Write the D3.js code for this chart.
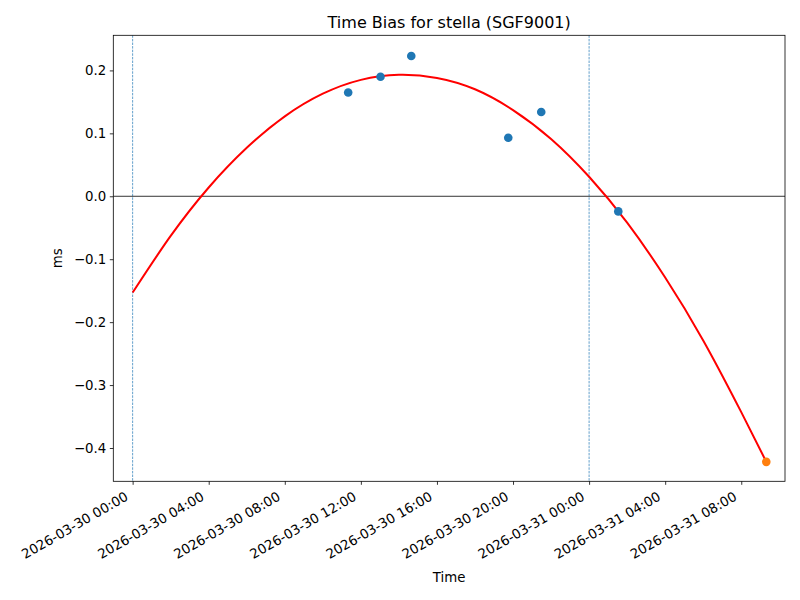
<!DOCTYPE html>
<html>
<head>
<meta charset="utf-8">
<script src="https://cdn.jsdelivr.net/npm/d3@7"></script>
<style>
  html, body { margin: 0; padding: 0; background: #fff; }
  text { font-family: "DejaVu Sans", sans-serif; fill: #000; }
</style>
</head>
<body>
<svg id="chart" width="800" height="600"></svg>
<script>
// ---- data ----
const titleText = "Time Bias for stella (SGF9001)";
const xLabelText = "Time";
const yLabelText = "ms";

const obsTimes = ["2026-03-30T11:20", "2026-03-30T13:02", "2026-03-30T14:39",
                  "2026-03-30T19:45", "2026-03-30T21:29", "2026-03-31T01:32"];
const obsBias = [0.165, 0.190, 0.223, 0.093, 0.134, -0.024];

const predTimes = ["2026-03-31T09:19"];
const predBias = [-0.422];

const fitTimes = ["2026-03-30T00:00", "2026-03-30T02:00", "2026-03-30T04:00", "2026-03-30T06:00",
                  "2026-03-30T08:00", "2026-03-30T10:00", "2026-03-30T12:00", "2026-03-30T14:00",
                  "2026-03-30T16:00", "2026-03-30T18:00", "2026-03-30T20:00", "2026-03-30T22:00",
                  "2026-03-31T00:00", "2026-03-31T02:00", "2026-03-31T04:00", "2026-03-31T06:00",
                  "2026-03-31T08:00", "2026-03-31T09:19"];
const fitBias = [-0.153, -0.063, 0.014, 0.077, 0.127, 0.163, 0.185, 0.193,
                 0.188, 0.170, 0.137, 0.091, 0.031, -0.042, -0.129, -0.229,
                 -0.343, -0.422];

const dayBoundaries = ["2026-03-30T00:00", "2026-03-31T00:00"];

const xTicks = ["2026-03-30T00:00", "2026-03-30T04:00", "2026-03-30T08:00", "2026-03-30T12:00",
                "2026-03-30T16:00", "2026-03-30T20:00", "2026-03-31T00:00", "2026-03-31T04:00",
                "2026-03-31T08:00"];
const yTicks = [0.2, 0.1, 0.0, -0.1, -0.2, -0.3, -0.4];

const xDomain = ["2026-03-29T22:59", "2026-03-31T10:18"];
const yDomain = [-0.4529, 0.2558];

// ---- layout ----
const W = 800, H = 600;
const margin = { left: 113.3, top: 35.3, right: 15, bottom: 118.7 };
const x0 = margin.left, x1 = W - margin.right, y0 = margin.top, y1 = H - margin.bottom;

const parse = d3.utcParse("%Y-%m-%dT%H:%M");
const fmtX = d3.utcFormat("%Y-%m-%d %H:%M");
const fmtY = d3.format(".1f");

const x = d3.scaleUtc().domain(xDomain.map(parse)).range([x0, x1]);
const y = d3.scaleLinear().domain(yDomain).range([y1, y0]);

const svg = d3.select("#chart");
svg.append("rect").attr("width", W).attr("height", H).attr("fill", "#fff");

const clipId = "plotclip";
svg.append("clipPath").attr("id", clipId)
  .append("rect").attr("x", x0).attr("y", y0).attr("width", x1 - x0).attr("height", y1 - y0);

const plot = svg.append("g").attr("clip-path", `url(#${clipId})`);

// day boundary lines
plot.selectAll("line.day").data(dayBoundaries).enter().append("line")
  .attr("class", "day")
  .attr("x1", d => x(parse(d))).attr("x2", d => x(parse(d)))
  .attr("y1", y0).attr("y2", y1)
  .attr("stroke", "#1f77b4").attr("stroke-width", 0.7)
  .attr("stroke-dasharray", "2.5,1.1");

// zero line
plot.append("line")
  .attr("x1", x0).attr("x2", x1)
  .attr("y1", y(0)).attr("y2", y(0))
  .attr("stroke", "#000").attr("stroke-width", 0.8);

// fit curve
const fitData = fitTimes.map((t, i) => ({ t: parse(t), v: fitBias[i] }));
plot.append("path")
  .datum(fitData)
  .attr("fill", "none")
  .attr("stroke", "#ff0000")
  .attr("stroke-width", 2)
  .attr("d", d3.line().x(d => x(d.t)).y(d => y(d.v)).curve(d3.curveNatural));

// observed points
const obsData = obsTimes.map((t, i) => ({ t: parse(t), v: obsBias[i] }));
plot.selectAll("circle.obs").data(obsData).enter().append("circle")
  .attr("class", "obs")
  .attr("cx", d => x(d.t)).attr("cy", d => y(d.v)).attr("r", 4.3)
  .attr("fill", "#1f77b4");

// predicted point
const predData = predTimes.map((t, i) => ({ t: parse(t), v: predBias[i] }));
plot.selectAll("circle.pred").data(predData).enter().append("circle")
  .attr("class", "pred")
  .attr("cx", d => x(d.t)).attr("cy", d => y(d.v)).attr("r", 4.3)
  .attr("fill", "#ff7f0e");

// frame
svg.append("rect")
  .attr("x", x0).attr("y", y0).attr("width", x1 - x0).attr("height", y1 - y0)
  .attr("fill", "none").attr("stroke", "#000").attr("stroke-width", 0.8);

// x axis
const xAxis = d3.axisBottom(x)
  .tickValues(xTicks.map(parse))
  .tickSize(3.5)
  .tickFormat(fmtX);
const gx = svg.append("g").attr("transform", `translate(0,${y1})`).call(xAxis);
gx.select(".domain").remove();
gx.selectAll(".tick line").attr("stroke", "#000").attr("stroke-width", 0.8);
gx.selectAll(".tick text")
  .attr("font-size", 13.33)
  .attr("font-family", "DejaVu Sans")
  .attr("text-anchor", "end")
  .attr("y", 0).attr("dy", 0)
  .attr("transform", "translate(-4,18) rotate(-30)");

// y axis
const yAxis = d3.axisLeft(y)
  .tickValues(yTicks)
  .tickSize(3.5)
  .tickPadding(3.5)
  .tickFormat(fmtY);
const gy = svg.append("g").attr("transform", `translate(${x0},0)`).call(yAxis);
gy.select(".domain").remove();
gy.selectAll(".tick line").attr("stroke", "#000").attr("stroke-width", 0.8);
gy.selectAll(".tick text")
  .attr("font-size", 13.33)
  .attr("font-family", "DejaVu Sans");

// title & labels
svg.append("text")
  .attr("x", (x0 + x1) / 2).attr("y", 28)
  .attr("text-anchor", "middle")
  .attr("font-size", 16)
  .text(titleText);

svg.append("text")
  .attr("x", (x0 + x1) / 2).attr("y", 582)
  .attr("text-anchor", "middle")
  .attr("font-size", 13.33)
  .text(xLabelText);

svg.append("text")
  .attr("transform", `translate(62,${(y0 + y1) / 2}) rotate(-90)`)
  .attr("text-anchor", "middle")
  .attr("font-size", 13.33)
  .text(yLabelText);
</script>
</body>
</html>
